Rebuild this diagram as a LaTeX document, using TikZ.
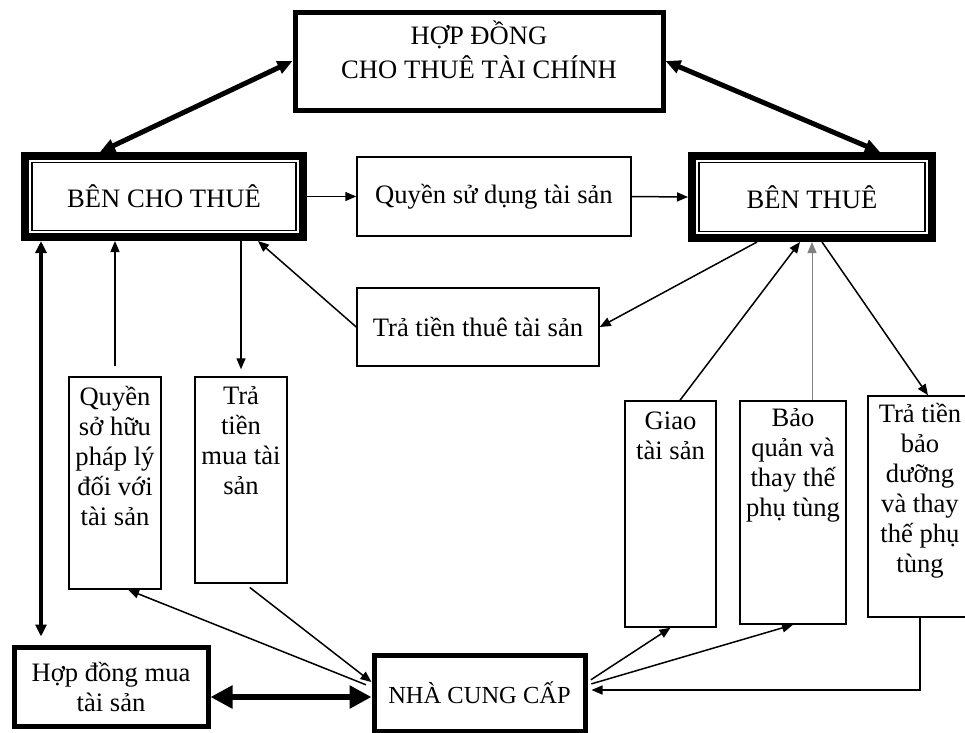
\documentclass[tikz,border=0pt]{standalone}
\usepackage{fontspec}
\setmainfont{Liberation Serif}
\usetikzlibrary{arrows.meta,positioning}
\tikzset{
  box/.style={draw, line width=1.5pt, inner sep=0pt, align=center},
  heavybox/.style={box, line width=5pt},
  framedbox/.style={box, line width=8pt},
  txt/.style={inner sep=0pt, align=center},
  flow/.style={-{Triangle[length=11pt,width=9pt]}, line width=1.5pt},
  link/.style={{Triangle[length=15pt,width=13pt]}-{Triangle[length=15pt,width=13pt]}, line width=5pt},
  biglink/.style={{Triangle[length=22pt,width=22pt]}-{Triangle[length=22pt,width=22pt]}, line width=6pt},
}
\begin{document}
\begin{tikzpicture}[x=1pt,y=-1pt,font=\fontsize{26.6}{30}\selectfont]
\useasboundingbox (0,0) rectangle (965,732);

\node[heavybox, minimum width=368pt, minimum height=98pt] (hd) at (479,61) {};
\node[txt, below=11pt of hd.north] {HỢP ĐỒNG\\[4pt]CHO THUÊ TÀI CHÍNH};

\node[framedbox, minimum width=278pt, minimum height=81pt] (bct) at (164,196.5) {BÊN CHO THUÊ};
\node[framedbox, minimum width=240pt, minimum height=82pt] (bt) at (812,197) {BÊN THUÊ};
\foreach \n in {bct,bt}
  \draw[line width=1.5pt] ([xshift=11pt,yshift=-10.5pt]\n.north west) rectangle ([xshift=-11pt,yshift=10.5pt]\n.south east);

\node[box, minimum width=274pt, minimum height=79pt] (qsd) at (494,196.5) {Quyền sử dụng tài sản};
\node[box, minimum width=242pt, minimum height=78pt] (ttt) at (478,327) {Trả tiền thuê tài sản};

\node[box, minimum width=92pt, minimum height=212pt] (qsh) at (115,483) {};
\node[txt, below=10pt of qsh.north] {Quyền\\sở hữu\\pháp lý\\đối với\\tài sản};
\node[box, minimum width=92pt, minimum height=206pt] (tmua) at (241,480) {};
\node[txt, below=10pt of tmua.north] {Trả\\tiền\\mua tài\\sản};

\node[box, minimum width=91pt, minimum height=226pt] (giao) at (670.5,514) {};
\node[txt, below=11pt of giao.north] {Giao\\tài sản};
\node[box, minimum width=106pt, minimum height=223pt] (bq) at (793,512.5) {};
\node[txt, below=8.5pt of bq.north] {Bảo\\quản và\\thay thế\\phụ tùng};
\node[box, minimum width=104pt, minimum height=221pt] (tbd) at (920,506.5) {};
\node[txt, below=8pt of tbd.north] {Trả tiền\\bảo\\dưỡng\\và thay\\thế phụ\\tùng};

\node[heavybox, minimum width=194pt, minimum height=79pt] (hdm) at (111,686.5) {Hợp đồng mua\\tài sản};
\node[heavybox, minimum width=211pt, minimum height=76pt, font=\fontsize{24.5}{30}\selectfont] (ncc) at (479.5,693) {NHÀ CUNG CẤP};

\draw[link] (hd.west) -- ([xshift=-64pt]bct.north);
\draw[link] (hd.east) -- ([xshift=68pt]bt.north);
\draw[flow] (bct.east) -- (qsd.west);
\draw[flow] (qsd.east) -- (bt.west);
\draw[flow] ([xshift=-55pt]bt.south) -- (ttt.east);
\draw[flow] (ttt.west) -- ([xshift=94pt]bct.south);
\draw[flow, shorten <=10pt] (qsh.north) -- (qsh.north |- bct.south);
\draw[flow, shorten >=7pt] (tmua.north |- bct.south) -- (tmua.north);
\draw[link, line width=4pt, {Triangle[length=12pt,width=11pt]}-{Triangle[length=12pt,width=11pt]}, shorten >=8pt]
  ([xshift=-123pt]bct.south) -- ([xshift=-123pt]bct.south |- hdm.north);
\draw[biglink] ([yshift=-4pt]ncc.west -| hdm.east) -- ([yshift=-4pt]ncc.west);
\draw[flow, shorten <=6pt] ([xshift=4pt]tmua.south) -- ([yshift=11pt]ncc.west);
\draw[flow, shorten <=6pt] ([yshift=6pt]ncc.west) -- ([xshift=13pt]qsh.south);

\draw[flow] ([xshift=9.5pt]giao.north) -- ([xshift=-12pt]bt.south);
\draw[flow, line width=1pt, draw=gray] ([xshift=19pt]bq.north) -- (bt.south);
\draw[flow] ([xshift=10pt]bt.south) -- ([xshift=8pt]tbd.north);
\draw[flow, shorten <=4pt] ([yshift=11pt]ncc.east) -- (giao.south);
\draw[flow, shorten <=4pt] ([yshift=8pt]ncc.east) -- (bq.south);
\draw[flow, shorten >=4pt] (tbd.south) |- ([yshift=3pt]ncc.east);
\end{tikzpicture}
\end{document}
